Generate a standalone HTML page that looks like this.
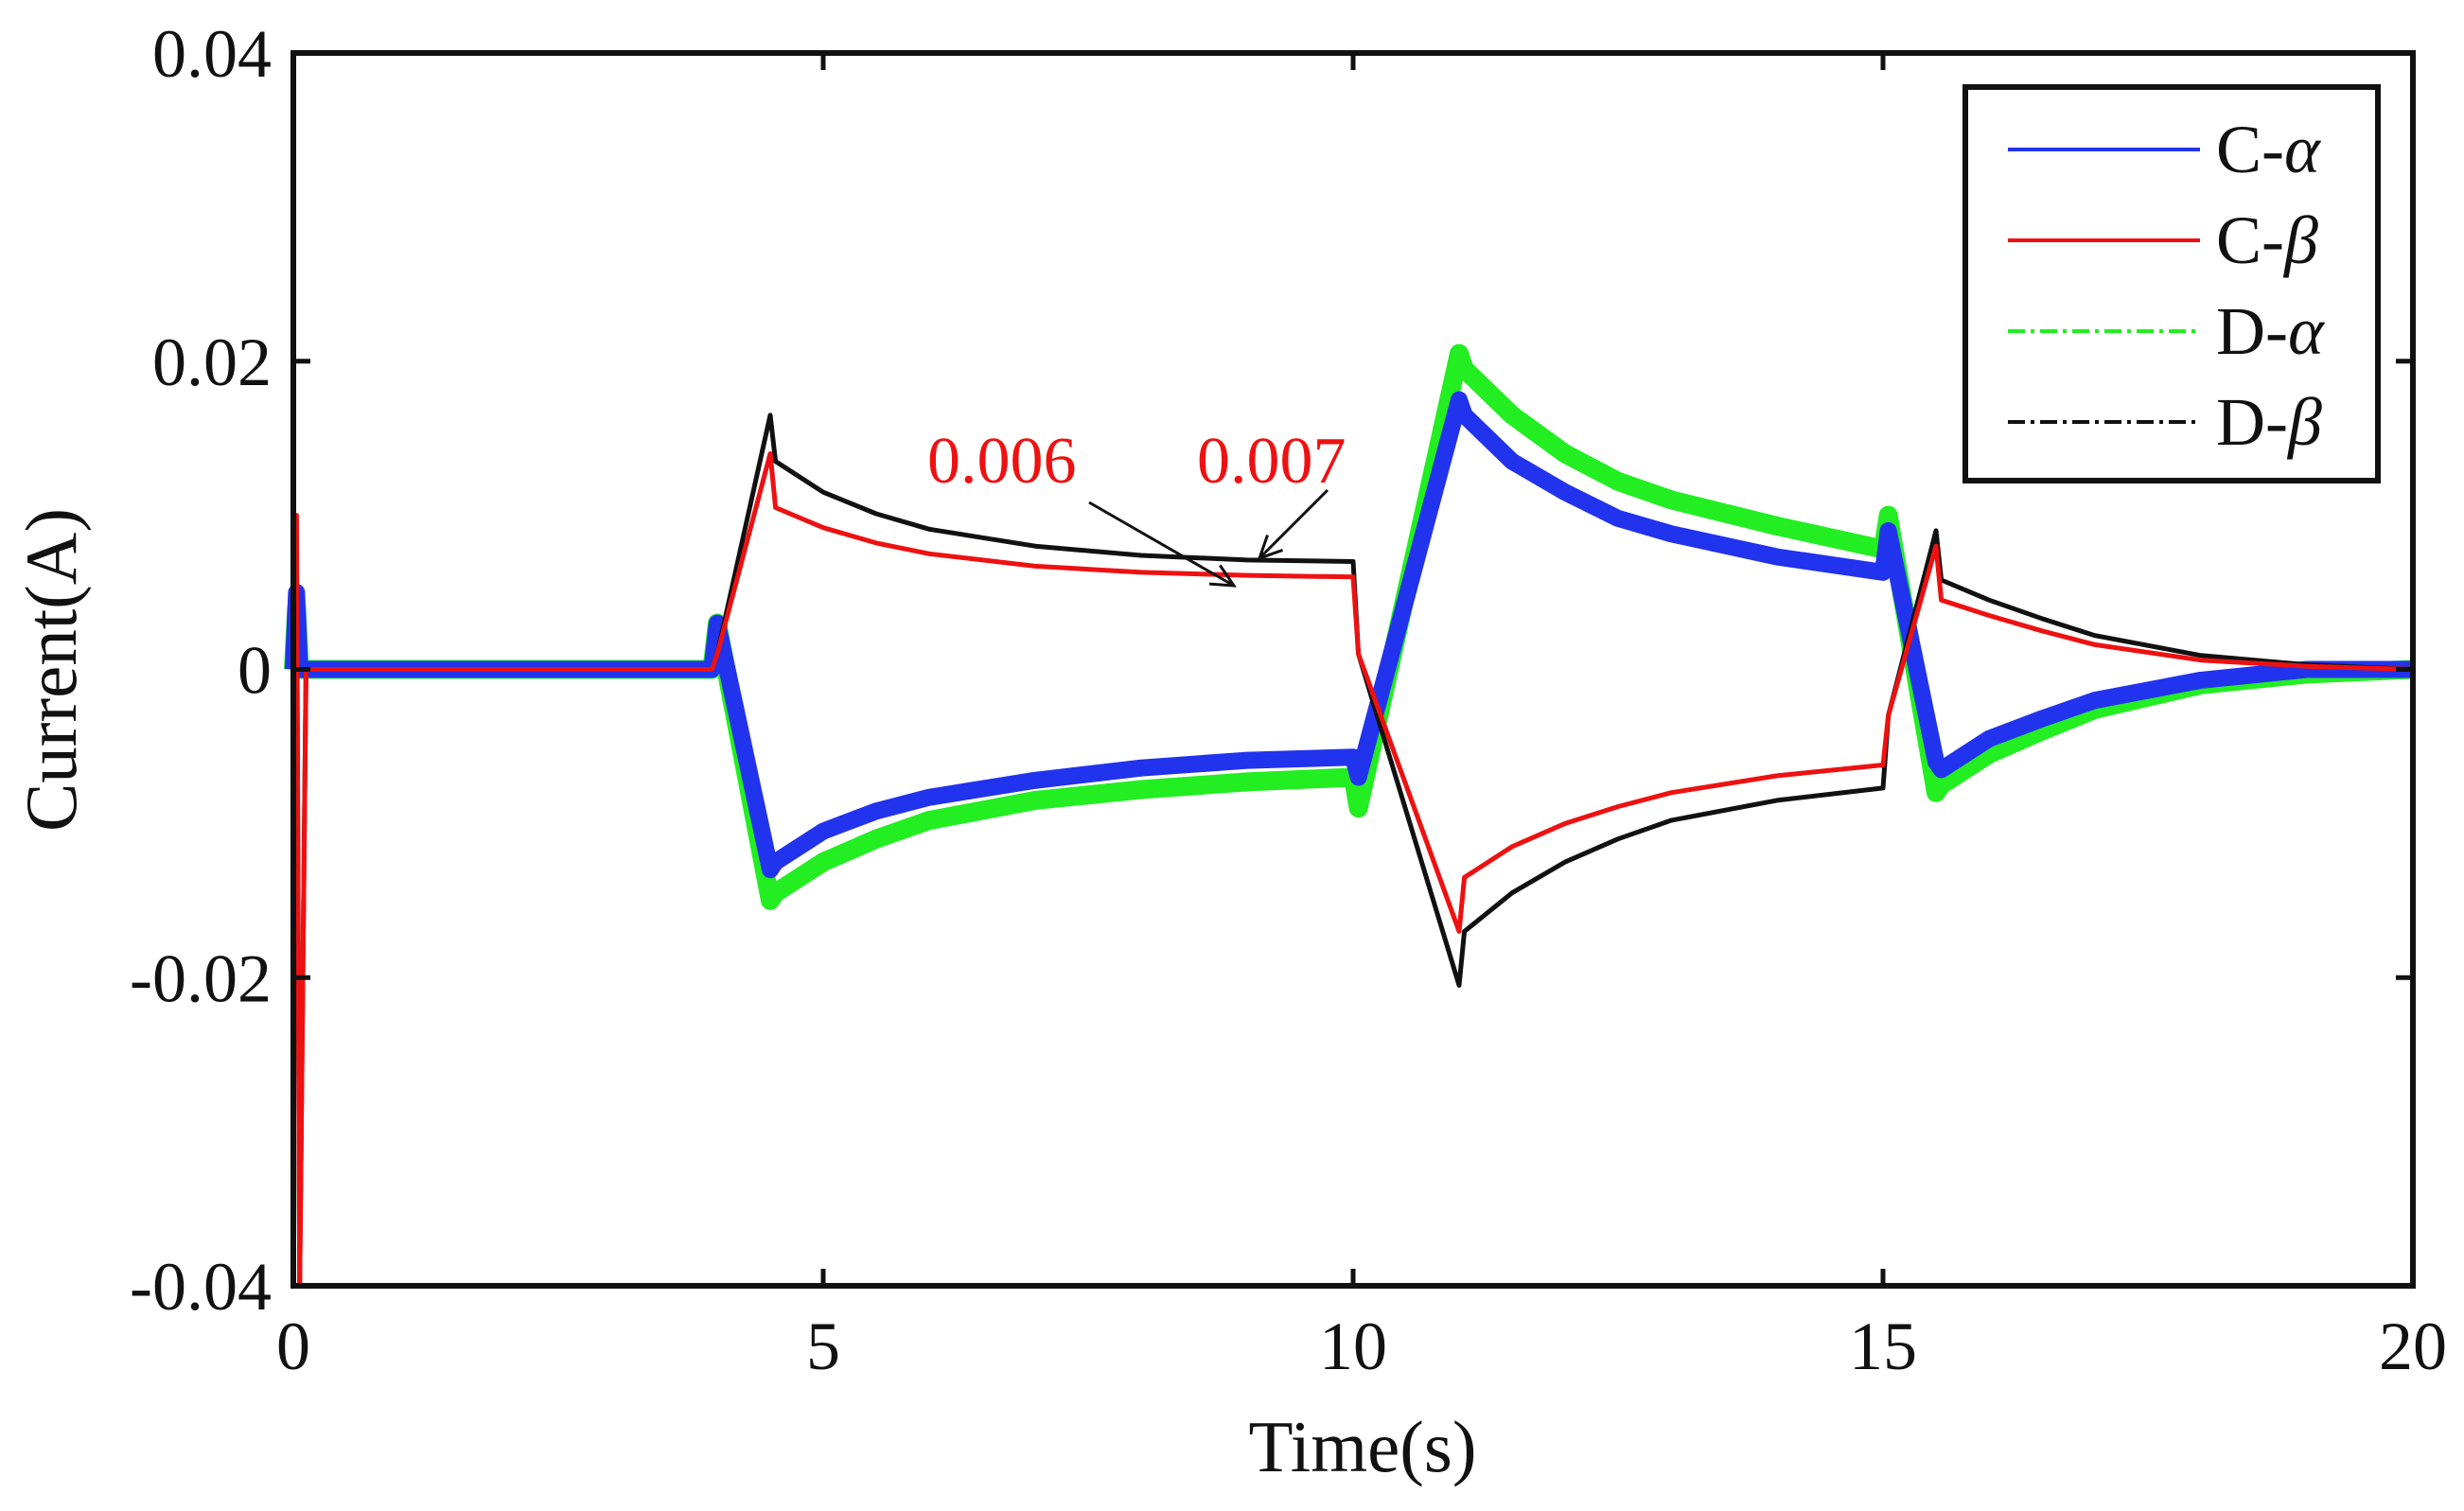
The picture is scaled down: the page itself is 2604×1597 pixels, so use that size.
<!DOCTYPE html>
<html><head><meta charset="utf-8"><style>
html,body{margin:0;padding:0;background:#fff}
svg{display:block}
text{font-family:"Liberation Serif",serif}
</style></head><body>
<svg id="chart" width="2604" height="1597" viewBox="0 0 2604 1597" xmlns="http://www.w3.org/2000/svg">
<g id="series"></g>
<g id="axes"></g>
</svg>
<script>
const times = [0,0.03,0.06,0.12,3.95,4.0,4.5,4.55,5,5.5,6,7,8,9,10,10.05,11,11.05,11.5,12,12.5,13,14,15,15.05,15.5,15.55,16,16.5,17,18,19,20];
const cBeta = [0,0.010,-0.040,0,0,0.001,0.014,0.0105,0.0092,0.0082,0.0075,0.0067,0.0063,0.0061,0.006,0.001,-0.017,-0.0135,-0.0115,-0.0100,-0.0089,-0.0080,-0.0069,-0.0062,-0.003,0.008,0.0045,0.0035,0.0025,0.0016,0.0006,0.0002,0];
const dBeta = [0,0.008,-0.040,0,0,0.001,0.0165,0.0135,0.0115,0.0101,0.0091,0.0080,0.0074,0.0071,0.0070,0.001,-0.0205,-0.017,-0.0145,-0.0125,-0.011,-0.0098,-0.0085,-0.0077,-0.003,0.009,0.0058,0.0045,0.0033,0.0022,0.0009,0.0003,0];
const cAlpha = [0,0.005,0,0,0,0.003,-0.013,-0.0125,-0.0105,-0.0092,-0.0083,-0.0072,-0.0064,-0.0059,-0.0057,-0.007,0.0175,0.0165,0.0135,0.0115,0.0098,0.0088,0.0073,0.0063,0.009,-0.006,-0.0065,-0.0045,-0.0032,-0.002,-0.0007,0,0];
const dAlpha = [0,0.004,0,0,0,0.003,-0.015,-0.0145,-0.0125,-0.011,-0.0098,-0.0085,-0.0078,-0.0073,-0.007,-0.009,0.0205,0.0195,0.0165,0.014,0.0122,0.011,0.0093,0.0078,0.010,-0.008,-0.0075,-0.0055,-0.004,-0.0026,-0.001,-0.0003,0];
const xTicks = [0,5,10,15,20];
const yTicks = [0.04,0.02,0,-0.02,-0.04];
const yTickLabels = ["0.04","0.02","0","-0.02","-0.04"];
const legendLabels = ["C-","C-","D-","D-"];
const legendGreek = ["α","β","α","β"];

const L=310,R=2550,T=56,B=1359;
const xs = t => L + (t-0)/(20-0)*(R-L);
const ys = v => T + (0.04-v)/0.08*(B-T);
const NS="http://www.w3.org/2000/svg";
function mk(tag,attrs,parent){const e=document.createElementNS(NS,tag);for(const k in attrs)e.setAttribute(k,attrs[k]);parent.appendChild(e);return e;}
const sg=document.getElementById('series'), ag=document.getElementById('axes');
function pathOf(vals){return vals.map((v,i)=>(i?'L':'M')+xs(times[i]).toFixed(1)+','+ys(v).toFixed(1)).join('');}

const specs=[[dAlpha,'#22ee22',20,'d-alpha-line'],[cAlpha,'#2233ee',18,'c-alpha-line'],[dBeta,'#111111',5,'d-beta-line'],[cBeta,'#ee1111',5,'c-beta-line']];
specs.forEach(s=>{
  const p=mk('path',{d:pathOf(s[0]),fill:'none',stroke:s[1],'stroke-width':s[2],'stroke-linejoin':'round'},sg);
  
  
});

const fr=mk('rect',{x:L,y:T,width:R-L,height:B-T,fill:'none',stroke:'#111','stroke-width':6},ag);


xTicks.forEach(t=>{
  const x=xs(t);
  mk('line',{x1:x,y1:B,x2:x,y2:B-18,stroke:'#111','stroke-width':5},ag);
  mk('line',{x1:x,y1:T,x2:x,y2:T+18,stroke:'#111','stroke-width':5},ag);
  const tx=mk('text',{x:x,y:B+88,'font-size':72,'text-anchor':'middle',fill:'#111'},ag);
  tx.textContent=t;
  
  
});
yTicks.forEach((v,i)=>{
  const y=ys(v);
  mk('line',{x1:L,y1:y,x2:L+18,y2:y,stroke:'#111','stroke-width':5},ag);
  mk('line',{x1:R,y1:y,x2:R-18,y2:y,stroke:'#111','stroke-width':5},ag);
  const tx=mk('text',{x:287,y:y+25,'font-size':72,'text-anchor':'end',fill:'#111'},ag);
  tx.textContent=yTickLabels[i];
  
  
});
const xt=mk('text',{x:1440,y:1555,'font-size':77,'text-anchor':'middle',fill:'#111'},ag);
xt.textContent='Time(s)';


const yt=mk('text',{x:0,y:0,'font-size':77,'text-anchor':'middle',fill:'#111',transform:'translate(80,708) rotate(-90)'},ag);
yt.textContent='Current(A)';



const a1=mk('text',{x:980,y:510,'font-size':70,fill:'#ee1111'},ag);
a1.textContent='0.006';


const a2=mk('text',{x:1265,y:510,'font-size':70,fill:'#ee1111'},ag);
a2.textContent='0.007';


function arrow(x1,y1,x2,y2,name){
  const g=mk('g',{},ag);
  
  
  mk('line',{x1,y1,x2,y2,stroke:'#111','stroke-width':3},g);
  const a=Math.atan2(y2-y1,x2-x1),h=26;
  mk('polyline',{points:`${x2-h*Math.cos(a-0.45)},${y2-h*Math.sin(a-0.45)} ${x2},${y2} ${x2-h*Math.cos(a+0.45)},${y2-h*Math.sin(a+0.45)}`,fill:'none',stroke:'#111','stroke-width':3},g);
}
arrow(1151,531,1304,619,'arrow-0-006');
arrow(1403,518,1331,590,'arrow-0-007');

const lg=mk('g',{},ag);


mk('rect',{x:2077,y:92,width:436,height:416,fill:'#fff',stroke:'#111','stroke-width':6},lg);
const lcol=['#2233ee','#ee1111','#22ee22','#111111'], ldash=['none','none','18 6 4 6','18 6 4 6'];
const lys=[158,254,350,446];
legendLabels.forEach((lab,i)=>{
  const e=mk('g',{},lg);
  
  
  mk('line',{x1:2122,y1:lys[i],x2:2325,y2:lys[i],stroke:lcol[i],'stroke-width':4,'stroke-dasharray':ldash[i]},e);
  const t=mk('text',{x:2342,y:lys[i]+24,'font-size':72,fill:'#111'},e);
  t.textContent=lab;
  const ts=mk('tspan',{'font-style':'italic'},t);
  ts.textContent=legendGreek[i];
});
</script>
</body></html>
